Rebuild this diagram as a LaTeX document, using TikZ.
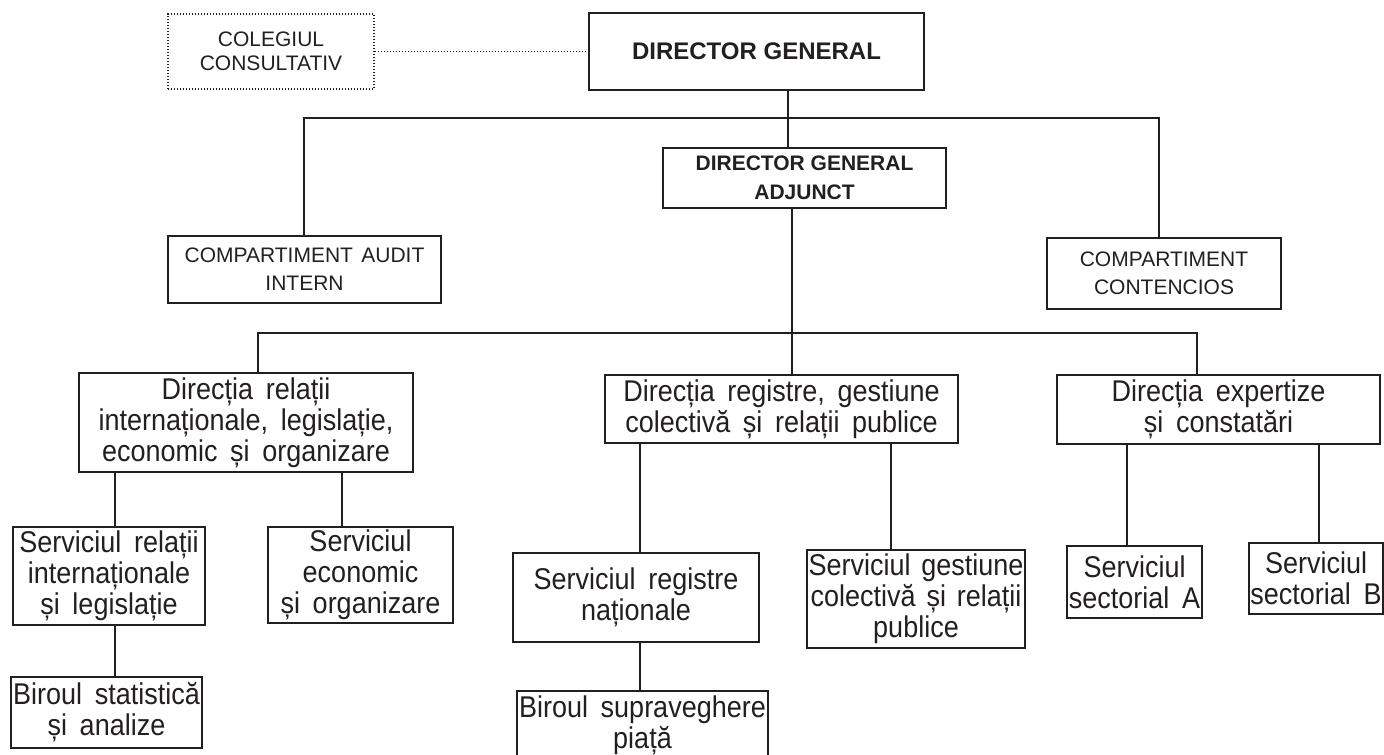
\documentclass[tikz,border=0pt]{standalone}
\usepackage{fontspec}
\setmainfont{Liberation Sans}
\newfontfamily\narrowsans[FakeStretch=0.9]{Liberation Sans}
\usepackage{xcolor}
\usepackage{tikz}
\definecolor{ink}{HTML}{231F20}
\tikzset{
  unit/.style={draw=ink, line width=0.9pt, inner sep=0pt, align=center, text=ink,
    font={\narrowsans\fontsize{15}{15.5}\selectfont\spaceskip=0.42em plus 0.1em\relax}},
  caps/.style={unit, font={\rmfamily\fontsize{10.5}{14}\selectfont\spaceskip=0.4em\relax}},
  head/.style={unit, font={\rmfamily\bfseries\fontsize{12}{14}\selectfont}},
  consult/.style={line width=0.7pt, dash pattern=on 0.6pt off 0.9pt},
  dims/.style 2 args={minimum width=#1*0.5pt, minimum height=#2*0.5pt},
  link/.style={draw=ink, line width=0.9pt},
  dotlink/.style={draw=ink, line width=0.7pt, dash pattern=on 0.6pt off 0.9pt},
}

\begin{document}
\begin{tikzpicture}[x=0.5pt, y=-0.5pt]
  \useasboundingbox (0,0) rectangle (1384,754);

  % conducere
  \node[caps, consult, dims={206}{75}, font={\rmfamily\fontsize{10.5}{12}\selectfont}] (coleg) at (271,51.5) {COLEGIUL\\CONSULTATIV};
  \node[head, dims={335}{77}] (dg) at (756.5,51.5) {DIRECTOR GENERAL};
  \node[head, dims={283}{60}, font={\rmfamily\bfseries\fontsize{10.5}{14.5}\selectfont}] (dga) at (804.5,178) {DIRECTOR GENERAL\\ADJUNCT};
  \node[caps, dims={273}{67}] (audit) at (304.5,269.5) {COMPARTIMENT AUDIT\\INTERN};
  \node[caps, dims={234}{71}] (cont) at (1164,273.5) {COMPARTIMENT\\CONTENCIOS};

  % directii
  \node[unit, dims={334}{99}] (dir1) at (246,422.5) {Direcția relații\\internaționale, legislație,\\economic și organizare};
  \node[unit, dims={353}{68}] (dir2) at (781.5,409) {Direcția registre, gestiune\\colectivă și relații publice};
  \node[unit, dims={323}{69}] (dir3) at (1218.5,409.5) {Direcția expertize\\și constatări};

  % servicii si birouri
  \node[unit, dims={192}{98}] (srel) at (109,576) {Serviciul relații\\internaționale\\și legislație};
  \node[unit, dims={185}{96}] (secon) at (360.5,575) {Serviciul\\economic\\și organizare};
  \node[unit, dims={191}{71}] (bstat) at (106.5,712.5) {Biroul statistică\\și analize};
  \node[unit, dims={246}{89}] (sreg) at (636,597.5) {Serviciul registre\\naționale};
  \node[unit, dims={251}{69}] (bsup) at (642.5,725.5) {Biroul supraveghere\\piață};
  \node[unit, dims={218}{98}, font={\narrowsans\fontsize{15}{15.5}\selectfont\spaceskip=0.36em\relax}] (sgest) at (916,599) {Serviciul gestiune\\colectivă și relații\\publice};
  \node[unit, dims={135}{72}] (sa) at (1134.5,582) {Serviciul\\sectorial A};
  \node[unit, dims={134}{71}] (sb) at (1316,578.5) {Serviciul\\sectorial B};

  % legaturi
  \draw[dotlink] (coleg) -- (dg);
  \coordinate (busL) at (304,118);
  \coordinate (busM) at (788,118);
  \coordinate (busR) at (1159,118);
  \draw[link] (busM |- dg.south) -- (busM |- dga.north);
  \draw[link] (busL |- audit.north) -- (busL) -- (busR) -- (busR |- cont.north);

  \coordinate (b1) at (258,333);
  \coordinate (b2) at (792,333);
  \coordinate (b3) at (1197,333);
  \draw[link] (b2 |- dga.south) -- (b2 |- dir2.north);
  \draw[link] (b1 |- dir1.north) -- (b1) -- (b3) -- (b3 |- dir3.north);

  \foreach \x/\a/\b in {115/dir1/srel, 342/dir1/secon, 115/srel/bstat,
      640/dir2/sreg, 891/dir2/sgest, 640/sreg/bsup, 1127/dir3/sa, 1319/dir3/sb}
    \draw[link] (\x,0 |- \a.south) -- (\x,0 |- \b.north);
\end{tikzpicture}
\end{document}
